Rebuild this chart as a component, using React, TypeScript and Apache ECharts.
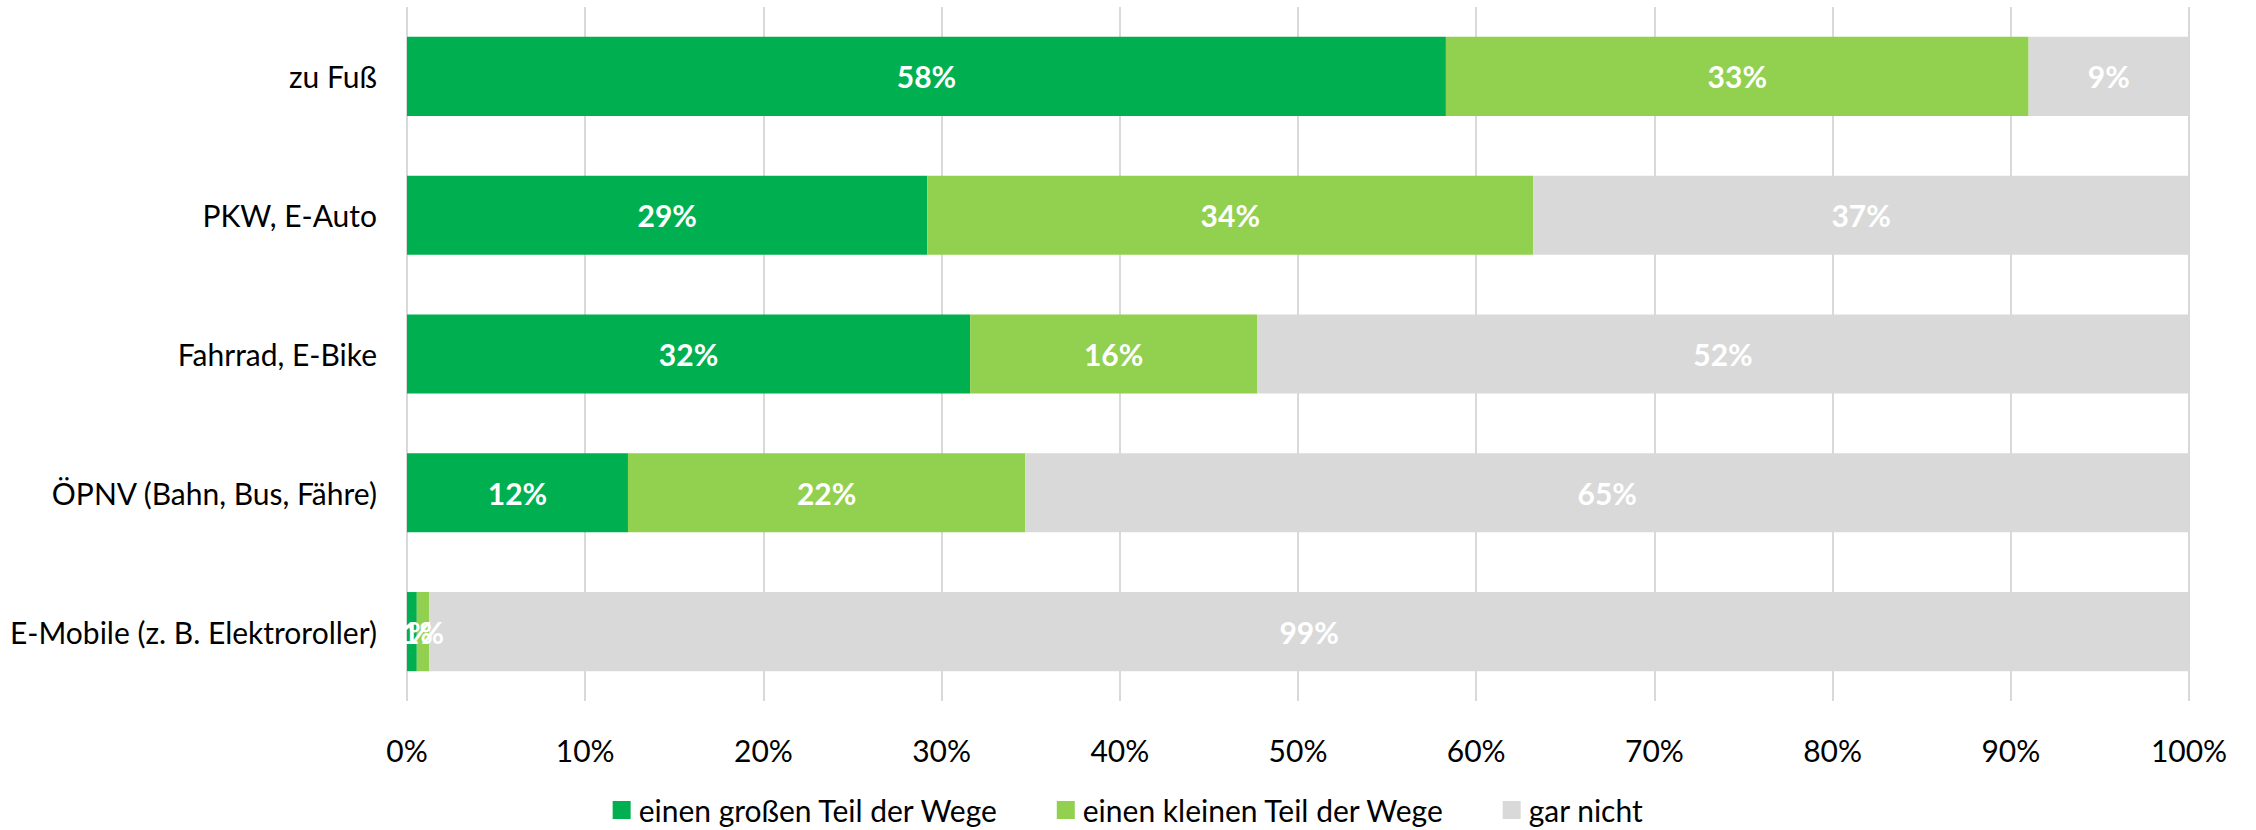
import React, { useEffect, useRef } from "react";
import * as echarts from "echarts";

const categories = [
  "zu Fuß",
  "PKW, E-Auto",
  "Fahrrad, E-Bike",
  "ÖPNV (Bahn, Bus, Fähre)",
  "E-Mobile (z. B. Elektroroller)",
];
const seriesNames = ["einen großen Teil der Wege", "einen kleinen Teil der Wege", "gar nicht"];
const grossValues = [58.3, 29.2, 31.6, 12.4, 0.55];
const kleinValues = [32.7, 34.0, 16.1, 22.3, 0.7];
const garNichtValues = [9.0, 36.8, 52.3, 65.3, 98.75];
const colors = ["#00B050", "#92D050", "#D9D9D9"];
const xTicks = [0, 10, 20, 30, 40, 50, 60, 70, 80, 90, 100];

const FONT = "Lato, 'Open Sans', sans-serif";
const FS = 30;

export default function App() {
  const ref = useRef<HTMLDivElement>(null);
  useEffect(() => {
    if (!ref.current) return;
    const chart = echarts.init(ref.current, null, { renderer: "svg" });
    const all = [grossValues, kleinValues, garNichtValues];
    chart.setOption({
      animation: false,
      textStyle: { fontFamily: FONT },
      grid: { left: 407, right: 67, top: 7, bottom: 129, containLabel: false },
      legend: {
        top: 790,
        left: "center",
        itemWidth: 18,
        itemHeight: 18,
        itemGap: 58,
        icon: "rect",
        textStyle: { fontFamily: FONT, fontSize: FS, color: "#000", padding: [0, 0, 0, 3] },
        data: seriesNames,
      },
      xAxis: {
        type: "value",
        min: xTicks[0],
        max: xTicks[xTicks.length - 1],
        interval: 10,
        axisLine: { show: false },
        axisTick: { show: false },
        splitLine: { show: true, lineStyle: { color: "#D9D9D9", width: 2 } },
        axisLabel: {
          formatter: (v: number) => `${v}%`,
          fontFamily: FONT,
          fontSize: FS,
          color: "#000",
          margin: 34,
        },
      },
      yAxis: {
        type: "category",
        data: categories,
        inverse: true,
        axisLine: { show: false },
        axisTick: { show: false },
        axisLabel: { fontFamily: FONT, fontSize: FS, color: "#000", margin: 30 },
      },
      series: seriesNames.map((name, i) => ({
        name,
        type: "bar",
        stack: "total",
        barCategoryGap: "43%",
        itemStyle: { color: colors[i] },
        label: {
          show: true,
          position: "inside",
          color: "#fff",
          fontWeight: "bold",
          fontFamily: FONT,
          fontSize: FS,
          formatter: (p: any) => `${Math.round(p.value)}%`,
        },
        data: all[i],
      })),
    });
    return () => chart.dispose();
  }, []);
  return (
    <div
      ref={ref}
      style={{ position: "absolute", left: 0, top: 0, width: 2256, height: 830 }}
    />
  );
}
